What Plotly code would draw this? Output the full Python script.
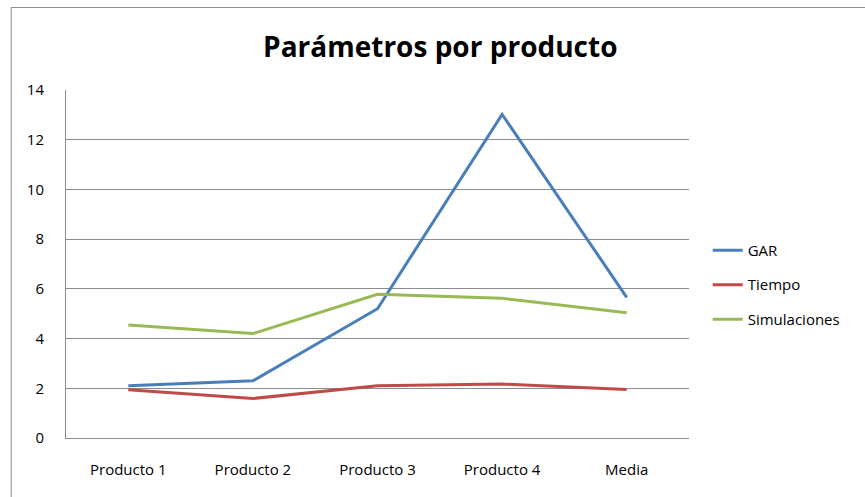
import plotly.graph_objects as go

# Datos por producto
categorias = ["Producto 1", "Producto 2", "Producto 3", "Producto 4", "Media"]
gar = [2.10, 2.30, 5.20, 13.02, 5.66]
tiempo = [1.94, 1.59, 2.10, 2.17, 1.95]
simulaciones = [4.55, 4.20, 5.78, 5.62, 5.04]

series = [
    ("GAR", gar, "#4a7ebb"),
    ("Tiempo", tiempo, "#be4b48"),
    ("Simulaciones", simulaciones, "#98b954"),
]

fig = go.Figure()
for nombre, valores, color in series:
    fig.add_trace(go.Scatter(
        x=categorias, y=valores, name=nombre, mode="lines",
        legendgroup=nombre,
        line=dict(color=color, width=3),
    ))

fig.update_layout(
    width=865, height=497,
    margin=dict(l=66, r=176, t=90, b=59),
    paper_bgcolor="white", plot_bgcolor="white",
    font=dict(family="Open Sans, Liberation Sans, sans-serif", size=14, color="#000"),
    title=dict(
        text="<b>Parámetros por producto</b>",
        x=0.509, xanchor="center", y=0.905, yanchor="middle",
        font=dict(size=28, family="Open Sans, sans-serif", color="#000"),
    ),
    showlegend=True,
    legend=dict(
        x=1.03, xanchor="left", y=0.44, yanchor="middle",
        font=dict(size=15),
        bgcolor="rgba(0,0,0,0)",
        tracegroupgap=12,
    ),
    shapes=[dict(
        type="rect", xref="paper", yref="paper",
        x0=-0.088, x1=1.3, y0=-0.2, y1=1.237,
        line=dict(color="#8c8c8c", width=1),
    )],
)

fig.update_xaxes(
    type="category", range=[-0.5, 4.5],
    showline=True, linecolor="#8c8c8c", linewidth=1,
    showgrid=False, ticks="", tickfont=dict(size=15),
    ticklabelstandoff=18,
)
fig.update_yaxes(
    range=[0, 14], dtick=2,
    showline=True, linecolor="#8c8c8c", linewidth=1,
    showgrid=True, gridcolor="#8c8c8c", gridwidth=1,
    ticks="", zeroline=False, tickfont=dict(size=15),
    ticklabelstandoff=18,
)

fig.write_html("out.html")
